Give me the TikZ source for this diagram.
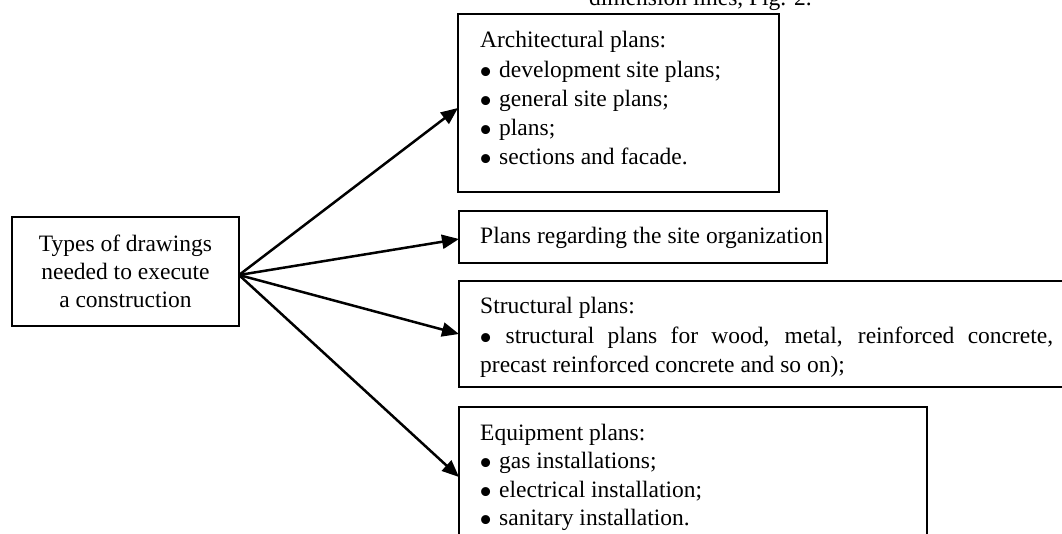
\documentclass[tikz,border=0pt]{standalone}
\usepackage{fontspec}
\setmainfont{Liberation Serif}
\usetikzlibrary{arrows.meta}
\newcommand{\bigbul}{\hspace{-1pt}\raisebox{-0.33em}{\scalebox{1.6}{\textbullet}}}
\newcommand{\bulitem}{\makebox[19pt][l]{\bigbul}}
\begin{document}
\begin{tikzpicture}[x=1pt,y=-1pt,
  every node/.style={font=\fontsize{23.5}{28}\selectfont},
  box/.style={draw, line width=2.4pt, outer sep=0pt, inner sep=0pt, anchor=north west},
  txt/.style={anchor=base west, inner sep=0pt},
  conn/.style={line width=2.5pt, -{Triangle[length=17pt,width=14pt]}}]
\useasboundingbox (0,0) rectangle (1062,533);
\clip (0,0) rectangle (1062,533);
% boxes
\node[box, minimum width=227pt, minimum height=109pt, align=center, anchor=center] (src) at (125.5,271.5) {Types of drawings\\needed to execute\\a construction};
\node[box, minimum width=321pt, minimum height=178pt] (arch) at (458,14) {};
\node[box, minimum width=368pt, minimum height=52pt] (site) at (459,211) {};
\node[box, minimum width=620pt, minimum height=106pt] (struct) at (459,281) {};
\node[box, minimum width=468pt, minimum height=140pt] (equip) at (459,407) {};
% texts
\node[anchor=base east, inner sep=0pt] (top) at (812,5) {dimension lines, Fig. 2.};
\node[txt] (a1) at (480,47) {Architectural plans:};
\node[txt] (a2) at (480,77) {\bulitem development site plans;};
\node[txt] (a3) at (480,106) {\bulitem general site plans;};
\node[txt] (a4) at (480,135) {\bulitem plans;};
\node[txt] (a5) at (480,164) {\bulitem sections and facade.};
\node[txt] (s1) at (480,243) {Plans regarding the site organization};
\node[txt] (t1) at (480,313) {Structural plans:};
\node[txt] (t2) at (480,343) {\makebox[573pt][s]{\bigbul{} structural plans for wood, metal, reinforced concrete,}};
\node[txt] (t3) at (480,372) {precast reinforced concrete and so on);};
\node[txt] (e1) at (480,440) {Equipment plans:};
\node[txt] (e2) at (480,468) {\bulitem gas installations;};
\node[txt] (e3) at (480,497) {\bulitem electrical installation;};
\node[txt] (e4) at (480,525) {\bulitem sanitary installation.};
% connectors
\coordinate (o) at ([yshift=-3.5pt]src.east);
\draw[conn] (o) -- ([yshift=-5pt]arch.west);
\draw[conn] (o) -- ([yshift=-2pt]site.west);
\draw[conn] (o) -- (struct.west);
\draw[conn] (o) -- (equip.west);
\end{tikzpicture}
\end{document}
